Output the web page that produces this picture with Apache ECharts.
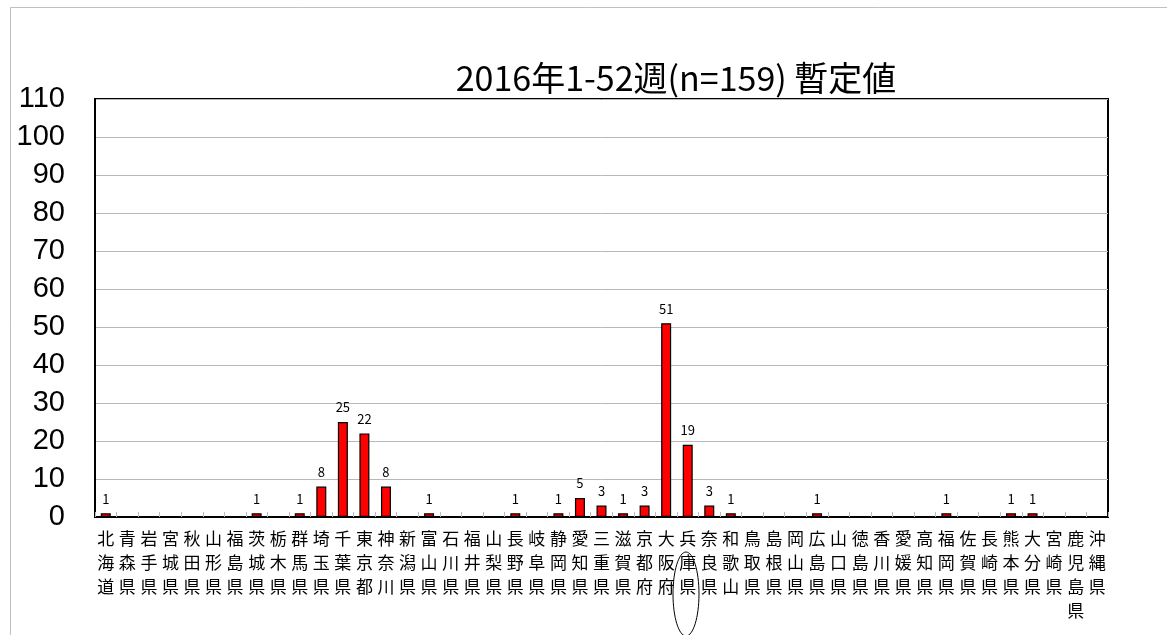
<!DOCTYPE html>
<html>
<head>
<meta charset="utf-8">
<script src="https://cdn.jsdelivr.net/npm/echarts@6/dist/echarts.min.js"></script>
<style>
html,body{margin:0;padding:0;background:#fff;}
#c{width:1167px;height:635px;}
</style>
</head>
<body>
<div id="c"></div>
<script>
const titleText = '2016年1-52週(n=159) 暫定値';
const prefectures = ['北海道','青森県','岩手県','宮城県','秋田県','山形県','福島県','茨城県','栃木県','群馬県','埼玉県','千葉県','東京都','神奈川','新潟県','富山県','石川県','福井県','山梨県','長野県','岐阜県','静岡県','愛知県','三重県','滋賀県','京都府','大阪府','兵庫県','奈良県','和歌山','鳥取県','島根県','岡山県','広島県','山口県','徳島県','香川県','愛媛県','高知県','福岡県','佐賀県','長崎県','熊本県','大分県','宮崎県','鹿児島県','沖縄県'];
const cases = [1,0,0,0,0,0,0,1,0,1,8,25,22,8,0,1,0,0,0,1,0,1,5,3,1,3,51,19,3,1,0,0,0,1,0,0,0,0,0,1,0,0,1,1,0,0,0];
const yMin = 0, yMax = 110, yStep = 10;

const chart = echarts.init(document.getElementById('c'));
chart.setOption({
  backgroundColor: '#fff',
  animation: false,
  title: {
    text: titleText,
    left: 671, top: 56, textAlign: 'center',
    textStyle: {fontFamily: '"Noto Sans CJK JP"', fontSize: 34, fontWeight: 'normal', color: '#000'}
  },
  grid: {left: 95, right: 59, top: 99, bottom: 118, show: true, borderColor: '#000', borderWidth: 2, backgroundColor: 'transparent'},
  xAxis: {
    type: 'category',
    data: prefectures,
    axisLine: {lineStyle: {color: '#000', width: 2}},
    axisTick: {show: true, inside: true, length: 5, lineStyle: {color: '#bbb'}},
    axisLabel: {
      interval: 0, margin: 10, color: '#000', fontSize: 17, lineHeight: 24,
      fontFamily: '"Noto Sans CJK JP"',
      verticalAlign: 'top',
      formatter: v => v.split('').join('\n')
    }
  },
  yAxis: {
    type: 'value', min: yMin, max: yMax, interval: yStep,
    axisLine: {show: true, lineStyle: {color: '#000', width: 2}},
    axisTick: {show: false},
    splitLine: {lineStyle: {color: '#b8b8b8', width: 1}},
    axisLabel: {color: '#000', fontSize: 29, margin: 30, fontFamily: 'Liberation Sans', padding: [6, 0, 0, 0]}
  },
  series: [{
    type: 'bar',
    data: cases,
    barWidth: 10,
    itemStyle: {color: '#ff0000', borderColor: '#000', borderWidth: 1.2},
    label: {
      show: true, position: 'top', distance: 8, color: '#000', fontSize: 13,
      fontFamily: '"Noto Sans CJK JP"',
      formatter: p => p.value === 0 ? '' : String(p.value)
    }
  }],
  graphic: [
    {type: 'rect', silent: true, shape: {x: 10.5, y: 7.5, width: 1300, height: 800}, style: {fill: 'none', stroke: '#c0c0c0', lineWidth: 1}},
    {type: 'ellipse', silent: true, shape: {cx: 686, cy: 594, rx: 13, ry: 42}, style: {fill: 'none', stroke: '#000', lineWidth: 1}}
  ]
});
</script>
</body>
</html>
